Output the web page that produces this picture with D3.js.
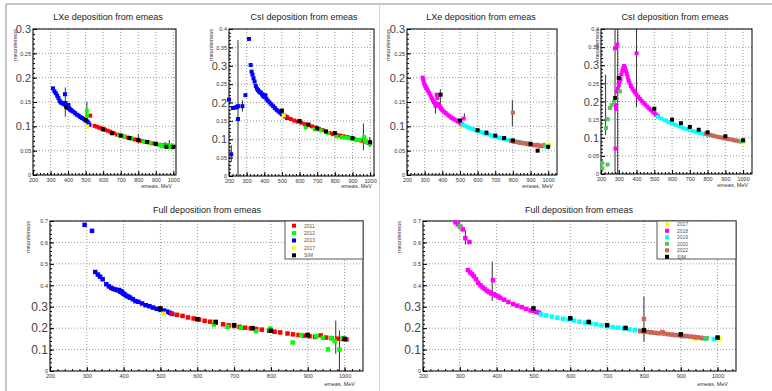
<!DOCTYPE html>
<html>
<head>
<meta charset="utf-8">
<script src="https://cdn.jsdelivr.net/npm/d3@7"></script>
<style>
  body { margin: 0; background: #fff; }
  svg { display: block; font-family: 'Liberation Sans', Arial, sans-serif; }
</style>
</head>
<body>
<svg id="canvas" width="772" height="391"></svg>
<script>
const xTicks = [200, 300, 400, 500, 600, 700, 800, 900, 1000];
const yTicks03 = [0, 0.05, 0.1, 0.15, 0.2, 0.25, 0.3];
const yTicks04 = [0, 0.05, 0.1, 0.15, 0.2, 0.25, 0.3, 0.35, 0.4];
const yTicks07 = [0, 0.1, 0.2, 0.3, 0.4, 0.5, 0.6, 0.7];
const legendLeft = ['2011', '2012', '2013', '2017', 'SIM'];
const legendRight = ['2017', '2018', '2019', '2020', '2022', 'SIM'];

// LXe, 2011-2017 runs
const lxeA_2011 = [[526,.122],[551,.101],[565,.099],[580,.097],[595,.095],[610,.093],[625,.091],[640,.089],[660,.086],[680,.083],[700,.081],[720,.079],[740,.077],[760,.075],[780,.073],[800,.071],[820,.070],[840,.068],[860,.067],[880,.065],[900,.064],[920,.062],[940,.061],[960,.060],[980,.059],[1000,.058]];
const lxeA_2012 = [[507,.132],[507,.121],[650,.086],[690,.082],[720,.079],[760,.075],[830,.069],[870,.066],[920,.062],[935,.060],[945,.059],[955,.058],[965,.062],[975,.059],[985,.061],[990,.057]];
const lxeA_2013 = [[314,.178],[322,.172],[330,.168],[338,.163],[345,.158],[352,.152],[358,.149],[365,.148],[372,.147],[378,.145],[382,.166],[385,.148],[390,.142],[395,.140],[398,.138],[402,.144],[405,.137],[410,.135],[415,.134],[420,.132],[430,.130],[440,.127],[450,.124],[460,.122],[470,.119],[480,.117],[490,.115],[500,.112],[510,.110],[516,.107],[522,.103]];
const lxeA_2017 = [[510,.100]];
const lxeA_sim = [[390,.140],[500,.113],[600,.094],[650,.086],[700,.081],[750,.076],[800,.072],[850,.068],[900,.064],[960,.058],[1000,.058]];
const lxeA_err = [[384,.12,.18],[507,.123,.15],[800,.065,.084],[953,.058,.068],[977,.053,.072]];

// CsI, 2011-2017 runs
const csiB_2011 = [[530,.160],[550,.155],[570,.151],[590,.148],[610,.145],[630,.141],[650,.138],[670,.135],[690,.132],[710,.128],[730,.125],[750,.121],[770,.117],[790,.114],[810,.112],[830,.110],[850,.108],[870,.106],[890,.104],[910,.101],[930,.098],[950,.096],[970,.094],[990,.090],[1000,.089]];
const csiB_2012 = [[635,.132],[686,.127],[720,.124],[761,.117],[809,.108],[840,.106],[860,.105],[880,.103],[900,.101],[920,.099],[940,.098],[966,.106],[970,.096],[979,.093],[990,.091],[998,.088]];
const csiB_2013 = [[200,.208],[213,.059],[222,.185],[236,.186],[244,.188],[251,.155],[251,.190],[276,.190],[293,.220],[313,.373],[323,.302],[328,.284],[333,.276],[339,.266],[345,.257],[352,.245],[358,.238],[364,.234],[370,.230],[376,.228],[382,.226],[388,.222],[394,.218],[400,.215],[406,.220],[412,.210],[420,.205],[430,.200],[440,.195],[450,.190],[460,.185],[470,.180],[480,.176],[490,.172],[500,.168],[510,.165],[520,.162],[530,.158]];
const csiB_2017 = [[510,.165]];
const csiB_sim = [[500,.178],[600,.150],[650,.140],[700,.130],[750,.121],[800,.117],[900,.103],[1000,.092]];
const csiB_err = [[213,.038,.084],[251,0,.37],[276,.175,.206],[962,.07,.143],[998,.079,.106]];

// LXe, 2017-2022 runs
const lxeC_2017 = [[510,.100],[1005,.063]];
const lxeC_2018 = [[289,.200],[293,.194],[297,.188],[302,.184],[308,.180],[314,.176],[320,.172],[327,.168],[334,.163],[340,.158],[346,.154],[352,.150],[358,.148],[362,.142],[368,.165],[372,.158],[376,.146],[380,.143],[385,.141],[390,.138],[395,.136],[400,.133],[410,.130],[420,.127],[430,.124],[440,.121],[450,.118],[460,.116],[470,.114],[480,.112],[490,.110],[500,.108],[506,.106],[512,.104],[521,.116]];
const lxeC_2019 = [[515,.104],[530,.101],[545,.098],[560,.096],[575,.094],[590,.092],[605,.090],[620,.088],[635,.086],[650,.084],[665,.083],[680,.081],[695,.079],[710,.078],[725,.076],[740,.075],[755,.074],[770,.072],[785,.071],[800,.070],[820,.069],[840,.068],[860,.066],[880,.065],[900,.064],[920,.062],[940,.061],[960,.060],[975,.059],[990,.058]];
const lxeC_2020 = [[965,.060],[975,.062]];
const lxeC_2022 = [[800,.128],[790,.070],[800,.069],[810,.068],[820,.068],[830,.067],[840,.066],[850,.066],[860,.065],[870,.065],[880,.064],[890,.063],[900,.062],[910,.062],[920,.061],[930,.061],[940,.062],[950,.060],[960,.059]];
const lxeC_sim = [[390,.165],[500,.112],[600,.092],[650,.087],[700,.081],[750,.076],[800,.071],[900,.064],[940,.050],[1000,.058]];
const lxeC_err = [[361,.126,.146],[389,.146,.176],[525,.113,.127],[797,.1,.154]];

// CsI, 2017-2022 runs
const csiD_2017 = [[1005,.087]];
const csiD_2018 = [[279,.347],[292,.357],[282,.070],[284,.190],[284,.180],[288,.227],[295,.235],[300,.245],[305,.255],[310,.262],[315,.275],[320,.285],[325,.292],[330,.298],[335,.293],[340,.285],[345,.276],[350,.267],[355,.259],[360,.252],[368,.243],[376,.236],[384,.230],[392,.225],[400,.219],[410,.213],[420,.207],[430,.201],[440,.196],[450,.191],[460,.186],[470,.181],[480,.177],[490,.172],[500,.168],[510,.164],[520,.160],[400,.333]];
const csiD_2019 = [[520,.158],[540,.153],[560,.148],[580,.143],[600,.139],[620,.135],[640,.131],[660,.127],[680,.124],[700,.121],[720,.118],[740,.115],[760,.113],[780,.110],[800,.108],[830,.105],[860,.102],[890,.099],[920,.096],[950,.093],[975,.091],[990,.089]];
const csiD_2020 = [[207,.030],[207,.016],[228,.127],[237,.151],[237,.026],[251,.182],[260,.190],[273,.200],[284,.210],[307,.228],[980,.090]];
const csiD_2022 = [[790,.112],[800,.110],[815,.108],[830,.106],[845,.104],[860,.102],[875,.101],[890,.099],[905,.098],[920,.096],[935,.095],[950,.093],[965,.092]];
const csiD_sim = [[280,.210],[300,.265],[500,.180],[600,.150],[650,.140],[700,.130],[750,.122],[800,.115],[900,.104],[1000,.093]];
const csiD_err = [[226,.107,.274],[279,0,.4],[294,0,.4],[400,.185,.4]];

// Full deposition, 2011-2017 runs
const fullE_2011 = [[530,.268],[545,.262],[560,.257],[575,.250],[590,.245],[605,.240],[620,.234],[635,.230],[650,.225],[670,.218],[685,.213],[700,.210],[715,.206],[730,.202],[745,.199],[760,.196],[775,.193],[795,.188],[810,.183],[825,.180],[845,.175],[860,.171],[875,.168],[890,.165],[905,.162],[920,.159],[935,.166],[950,.156],[965,.153],[980,.151],[995,.149],[1005,.147]];
const fullE_2012 = [[645,.217],[682,.206],[718,.201],[759,.186],[798,.198],[859,.133],[882,.167],[923,.162],[941,.154],[955,.101],[964,.154],[973,.139],[986,.100],[995,.154]];
const fullE_2013 = [[294,.682],[314,.654],[323,.462],[330,.450],[336,.440],[343,.428],[353,.405],[360,.395],[366,.388],[372,.383],[378,.380],[383,.377],[388,.378],[391,.370],[394,.372],[397,.365],[400,.360],[404,.356],[408,.350],[413,.347],[418,.342],[425,.335],[432,.326],[440,.323],[450,.315],[460,.307],[470,.302],[480,.296],[490,.290],[500,.285],[510,.282],[518,.277],[525,.272],[532,.266]];
const fullE_2017 = [[509,.267]];
const fullE_sim = [[500,.292],[600,.242],[650,.229],[700,.214],[750,.200],[800,.188],[900,.168],[1000,.150]];
const fullE_err = [[976,.08,.235],[986,0,.19]];

// Full deposition, 2017-2022 runs
const fullF_2017 = [[940,.150],[1005,.150]];
const fullF_2018 = [[288,.694],[295,.684],[302,.672],[308,.661],[315,.620],[326,.602],[322,.471],[328,.460],[333,.452],[338,.442],[344,.428],[350,.412],[356,.400],[362,.390],[368,.382],[374,.374],[380,.368],[385,.362],[390,.424],[393,.358],[398,.352],[404,.348],[410,.342],[420,.333],[432,.322],[445,.312],[456,.305],[468,.298],[480,.290],[492,.283],[500,.280],[508,.276],[515,.272]];
const fullF_2019 = [[520,.264],[535,.259],[550,.254],[565,.249],[580,.244],[595,.240],[610,.235],[625,.230],[640,.226],[655,.222],[670,.218],[685,.213],[700,.209],[715,.205],[730,.202],[745,.198],[760,.194],[775,.190],[790,.187],[820,.181],[850,.175],[880,.168],[910,.163],[940,.158],[970,.153],[990,.149]];
const fullF_2020 = [[300,.675],[960,.152],[970,.152]];
const fullF_2022 = [[800,.243],[790,.186],[800,.184],[810,.182],[820,.180],[830,.178],[840,.176],[850,.182],[855,.175],[865,.172],[875,.170],[885,.168],[895,.166],[905,.164],[915,.163],[925,.161],[935,.159],[945,.157],[955,.155]];
const fullF_sim = [[500,.292],[600,.246],[650,.229],[700,.214],[750,.201],[800,.190],[900,.171],[1000,.156]];
const fullF_err = [[315,.59,.657],[388,.327,.51],[800,.137,.347]];

const colors = {
  '2011': '#ff0000', '2012': '#00ff00', '2013': '#0000ff', '2017': '#ffff00',
  '2018': '#ff00ff', '2019': '#00ffff', '2020': '#55c455', '2022': '#cd6454', 'SIM': '#000000'
};

const svg = d3.select('#canvas');

// pad borders
svg.append('line').attr('x1', 6).attr('y1', 4).attr('x2', 772).attr('y2', 4).style('stroke', '#8c8c8c');
svg.append('line').attr('x1', 6).attr('y1', 4).attr('x2', 6).attr('y2', 391).style('stroke', '#8c8c8c');
svg.append('line').attr('x1', 379.5).attr('y1', 4).attr('x2', 379.5).attr('y2', 391).style('stroke', '#d4d4d4');

const fmt = d => (d === 0 ? '0' : String(+d.toFixed(2)));

function drawPanel(p) {
  const x = d3.scaleLinear().domain([200, p.xMax]).range([p.x0, p.x1]);
  const y = d3.scaleLinear().domain([0, p.yMax]).range([p.y1, p.y0]);
  const g = svg.append('g');

  // dotted grid
  g.selectAll('line.gx')
    .data(xTicks)
    .enter()
    .append('line')
    .attr('x1', d => x(d)).attr('x2', d => x(d))
    .attr('y1', p.y0).attr('y2', p.y1)
    .style('stroke', '#9a9a9a')
    .style('stroke-dasharray', '1,2');
  g.selectAll('line.gy')
    .data(p.yTicks)
    .enter()
    .append('line')
    .attr('x1', p.x0).attr('x2', p.x1)
    .attr('y1', d => y(d)).attr('y2', d => y(d))
    .style('stroke', '#9a9a9a')
    .style('stroke-dasharray', '1,2');

  // x axis
  const xa = g.append('g')
    .attr('transform', `translate(0,${p.y1})`)
    .call(d3.axisBottom(x).tickValues(xTicks).tickSize(-4).tickPadding(3).tickFormat(d3.format('d')));
  g.append('g')
    .attr('transform', `translate(0,${p.y1})`)
    .call(d3.axisBottom(x).tickValues(d3.range(200, p.xMax + 1, 20)).tickSize(-2).tickFormat(''));

  // y axis
  const ya = g.append('g')
    .attr('transform', `translate(${p.x0},0)`)
    .call(d3.axisLeft(y).tickValues(p.yTicks).tickSize(-4).tickPadding(2).tickFormat(fmt));
  g.append('g')
    .attr('transform', `translate(${p.x0},0)`)
    .call(d3.axisLeft(y).tickValues(d3.range(0, p.yMax + 1e-9, p.minorY)).tickSize(-2).tickFormat(''));

  g.selectAll('.domain').remove();
  g.selectAll('.tick line').style('stroke', '#000');
  xa.selectAll('text').style('font-size', '5.5px').style('fill', '#333');
  ya.selectAll('text')
    .style('font-size', d => (p.big.includes(d) ? p.bigSize : 5.5) + 'px')
    .style('fill', d => (p.big.includes(d) ? '#444' : '#333'));

  // frame
  g.append('rect')
    .attr('x', p.x0).attr('y', p.y0)
    .attr('width', p.x1 - p.x0).attr('height', p.y1 - p.y0)
    .style('fill', 'none')
    .style('stroke', '#000');

  // titles
  g.append('text')
    .attr('x', p.titleX).attr('y', p.titleY)
    .attr('text-anchor', 'middle')
    .style('font-size', '9px')
    .style('fill', '#222')
    .text(p.title);
  g.append('text')
    .attr('x', p.x1 - p.xTitleShift).attr('y', p.y1 + p.xTitleDrop)
    .attr('text-anchor', 'end')
    .style('font-size', '5.5px')
    .style('fill', '#333')
    .text('emeas, MeV');
  g.append('text')
    .attr('transform', `translate(${p.yTitleX},${p.y0}) rotate(-90)`)
    .attr('text-anchor', 'end')
    .style('font-size', '5.5px')
    .style('fill', '#333')
    .text('mean/emeas');

  // error bars
  g.selectAll('line.err')
    .data(p.err)
    .enter()
    .append('line')
    .attr('x1', d => x(d[0])).attr('x2', d => x(d[0]))
    .attr('y1', d => y(d[1])).attr('y2', d => y(d[2]))
    .style('stroke', '#333')
    .style('stroke-width', 1);

  // markers
  const s = p.marker;
  for (const [name, pts] of p.series) {
    g.append('g')
      .selectAll('rect')
      .data(pts)
      .enter()
      .append('rect')
      .attr('x', d => x(d[0]) - s / 2)
      .attr('y', d => y(d[1]) - s / 2)
      .attr('width', s).attr('height', s)
      .style('fill', colors[name]);
  }

  if (p.legend) {
    const L = p.legend;
    g.append('rect')
      .attr('x', L.x).attr('y', p.y0)
      .attr('width', p.x1 - L.x).attr('height', L.h)
      .style('fill', '#fff')
      .style('stroke', '#555');
    const row = g.selectAll('g.leg')
      .data(L.items)
      .enter()
      .append('g')
      .attr('transform', (d, i) => `translate(${L.x},${p.y0 + L.top + i * L.step})`);
    row.append('rect')
      .attr('x', L.mx - 2).attr('y', -2)
      .attr('width', 4).attr('height', 4)
      .style('fill', d => colors[d]);
    row.append('text')
      .attr('x', L.tx).attr('y', 1.8)
      .style('font-size', '5px')
      .style('fill', '#555')
      .text(d => d);
  }
}

const leftSeries = (a, b, c, d, e) => [['2013', c], ['2011', a], ['2012', b], ['2017', d], ['SIM', e]];
const rightSeries = (a, b, c, d, e, f) => [['2017', a], ['2018', b], ['2019', c], ['2020', d], ['2022', e], ['SIM', f]];

drawPanel({
  x0: 33, x1: 176, y0: 29, y1: 175, xMax: 1015, yMax: 0.3, yTicks: yTicks03, minorY: 0.01,
  big: [0.1, 0.2, 0.3], bigSize: 11, marker: 4, title: 'LXe deposition from emeas', titleX: 108, titleY: 20,
  yTitleX: 17, xTitleShift: 4, xTitleDrop: 13, err: lxeA_err,
  series: leftSeries(lxeA_2011, lxeA_2012, lxeA_2013, lxeA_2017, lxeA_sim)
});
drawPanel({
  x0: 229, x1: 374, y0: 29, y1: 176, xMax: 1022, yMax: 0.4, yTicks: yTicks04, minorY: 0.01,
  big: [0.1, 0.2, 0.3], bigSize: 11, marker: 4, title: 'CsI deposition from emeas', titleX: 304, titleY: 20,
  yTitleX: 213, xTitleShift: 2, xTitleDrop: 12, err: csiB_err,
  series: leftSeries(csiB_2011, csiB_2012, csiB_2013, csiB_2017, csiB_sim)
});
drawPanel({
  x0: 407, x1: 557, y0: 29, y1: 175, xMax: 1050, yMax: 0.3, yTicks: yTicks03, minorY: 0.01,
  big: [0.1, 0.2, 0.3], bigSize: 11, marker: 4, title: 'LXe deposition from emeas', titleX: 481, titleY: 20,
  yTitleX: 390, xTitleShift: 4, xTitleDrop: 13, err: lxeC_err,
  series: rightSeries(lxeC_2017, lxeC_2018, lxeC_2019, lxeC_2020, lxeC_2022, lxeC_sim)
});
drawPanel({
  x0: 601, x1: 752, y0: 29, y1: 174, xMax: 1050, yMax: 0.4, yTicks: yTicks04, minorY: 0.01,
  big: [0.1, 0.2, 0.3], bigSize: 11, marker: 4, title: 'CsI deposition from emeas', titleX: 675, titleY: 20,
  yTitleX: 599, xTitleShift: 4, xTitleDrop: 13, err: csiD_err,
  series: rightSeries(csiD_2017, csiD_2018, csiD_2019, csiD_2020, csiD_2022, csiD_sim)
});
drawPanel({
  x0: 50, x1: 363, y0: 221, y1: 371, xMax: 1050, yMax: 0.7, yTicks: yTicks07, minorY: 0.02,
  big: [0.1, 0.2, 0.3], bigSize: 12, marker: 4.5, title: 'Full deposition from emeas', titleX: 207, titleY: 213,
  yTitleX: 30, xTitleShift: 8, xTitleDrop: 14.5, err: fullE_err,
  series: leftSeries(fullE_2011, fullE_2012, fullE_2013, fullE_2017, fullE_sim),
  legend: { x: 285, h: 38, top: 4.7, step: 7.4, mx: 9, tx: 19, items: legendLeft }
});
drawPanel({
  x0: 423, x1: 736, y0: 221, y1: 371, xMax: 1050, yMax: 0.7, yTicks: yTicks07, minorY: 0.02,
  big: [0.1, 0.2, 0.3], bigSize: 12, marker: 4.5, title: 'Full deposition from emeas', titleX: 579, titleY: 213,
  yTitleX: 401, xTitleShift: 8, xTitleDrop: 14.5, err: fullF_err,
  series: rightSeries(fullF_2017, fullF_2018, fullF_2019, fullF_2020, fullF_2022, fullF_sim),
  legend: { x: 657, h: 38, top: 3.3, step: 6.5, mx: 10, tx: 20, items: legendRight }
});
</script>
</body>
</html>
